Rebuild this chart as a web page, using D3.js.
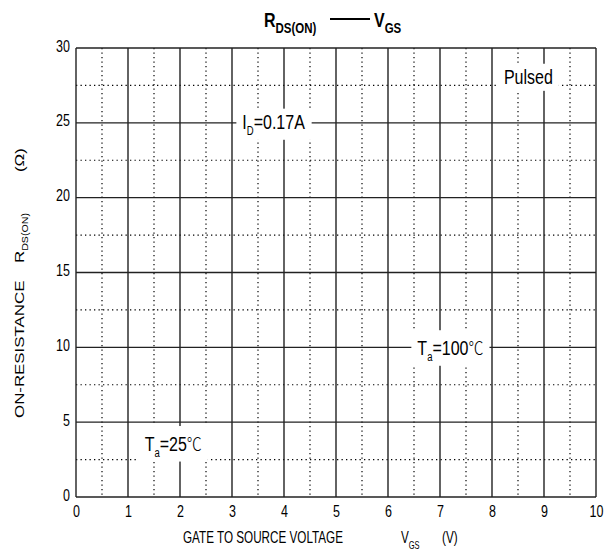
<!DOCTYPE html>
<html>
<head>
<meta charset="utf-8">
<script src="https://cdn.jsdelivr.net/npm/d3@7"></script>
<style>
  html, body { margin: 0; padding: 0; background: #fff; }
  svg { display: block; font-family: "Liberation Sans", Arial, sans-serif; }
</style>
</head>
<body>
<svg id="chart" width="615" height="554"></svg>
<script>
// ---- data ----
const xDomain = [0, 10];
const yDomain = [0, 30];
const xTickValues = [0, 1, 2, 3, 4, 5, 6, 7, 8, 9, 10];
const yTickValues = [0, 5, 10, 15, 20, 25, 30];
const xMinorValues = [0.5, 1.5, 2.5, 3.5, 4.5, 5.5, 6.5, 7.5, 8.5, 9.5];
const yMinorValues = [2.5, 7.5, 12.5, 17.5, 22.5, 27.5];
// annotations: main text, subscript, rest, unit, anchor in data units (V, Ω)
const noteMain = ["Pulsed", "I", "T", "T"];
const noteSub = ["", "D", "a", "a"];
const noteRest = ["", "=0.17A", "=100", "=25"];
const noteUnit = ["", "", "℃", "℃"];
const noteX = [8.7, 3.8, 7.2, 1.87];
const noteY = [27.6, 24.6, 9.5, 3.1];

// ---- chart ----
const svg = d3.select("#chart");
const margin = { left: 76, right: 19, top: 48, bottom: 57 };
const W = 615, H = 554;
const x = d3.scaleLinear().domain(xDomain).range([margin.left, W - margin.right]);
const y = d3.scaleLinear().domain(yDomain).range([H - margin.bottom, margin.top]);
const SY = 1.25; // vertical stretch of lettering

const g = svg.append("g");

// dotted minor grid
g.selectAll("line.vx").data(xMinorValues).join("line")
  .attr("x1", d => x(d)).attr("x2", d => x(d))
  .attr("y1", y(30)).attr("y2", y(0))
  .attr("stroke", "#000").attr("stroke-width", 1.2)
  .attr("stroke-dasharray", "1.3,3.2");
g.selectAll("line.hy").data(yMinorValues).join("line")
  .attr("x1", x(0)).attr("x2", x(10))
  .attr("y1", d => y(d)).attr("y2", d => y(d))
  .attr("stroke", "#000").attr("stroke-width", 1.2)
  .attr("stroke-dasharray", "1.3,3.2");

// solid major grid
g.selectAll("line.mx").data(xTickValues).join("line")
  .attr("x1", d => x(d)).attr("x2", d => x(d))
  .attr("y1", y(30)).attr("y2", y(0))
  .attr("stroke", "#222").attr("stroke-width", 1.4);
g.selectAll("line.my").data(yTickValues).join("line")
  .attr("x1", x(0)).attr("x2", x(10))
  .attr("y1", d => y(d)).attr("y2", d => y(d))
  .attr("stroke", "#222").attr("stroke-width", 1.4);

// axes (labels only)
const xAxis = d3.axisBottom(x).tickValues(xTickValues).tickSize(0).tickPadding(7).tickFormat(d3.format("d"));
const yAxis = d3.axisLeft(y).tickValues(yTickValues).tickSize(0).tickPadding(6).tickFormat(d3.format("d"));
const gx = svg.append("g").attr("transform", `translate(0,${y(0)})`).call(xAxis);
const gy = svg.append("g").attr("transform", `translate(${x(0)},0)`).call(yAxis);
[gx, gy].forEach(a => {
  a.select(".domain").remove();
  a.selectAll("text").attr("font-size", 12.5).attr("fill", "#000")
    .attr("font-family", "'Liberation Sans', Arial, sans-serif")
    .attr("transform", `scale(1,${SY})`);
});
gy.selectAll(".tick text").attr("dy", "0.2em");

// annotations with white background
noteMain.forEach((m, i) => {
  const ng = svg.append("g")
    .attr("transform", `translate(${x(noteX[i])},${y(noteY[i])}) scale(1,${SY})`);
  const t = ng.append("text")
    .attr("x", 0).attr("y", 0)
    .attr("text-anchor", "middle")
    .attr("font-size", 16).attr("fill", "#000");
  t.append("tspan").text(m);
  if (noteSub[i]) {
    t.append("tspan").text(noteSub[i]).attr("font-size", 9.5).attr("dy", 5);
    t.append("tspan").text(noteRest[i]).attr("dy", -5);
  }
  if (noteUnit[i]) {
    t.append("tspan").text(noteUnit[i])
      .attr("font-family", "'Noto Sans CJK SC', sans-serif")
      .attr("font-weight", 300).attr("font-size", 15);
  }
  const bb = t.node().getBBox();
  ng.insert("rect", "text")
    .attr("x", bb.x - 6).attr("y", bb.y - 2)
    .attr("width", bb.width + 12).attr("height", bb.height + 4)
    .attr("fill", "#fff");
});

// title
const tg = svg.append("g").attr("transform", `translate(264,27) scale(1,1.25)`);
const title = tg.append("text")
  .attr("x", 0).attr("y", 0)
  .attr("font-weight", "bold").attr("font-size", 16).attr("fill", "#000");
title.append("tspan").text("R");
title.append("tspan").text("DS(ON)").attr("font-size", 11.5).attr("dy", 4.5);
title.append("tspan").text("V").attr("x", 110).attr("dy", -4.5);
title.append("tspan").text("GS").attr("font-size", 11.5).attr("dy", 4.5);
svg.append("line")
  .attr("x1", 330).attr("x2", 370)
  .attr("y1", 19).attr("y2", 19)
  .attr("stroke", "#000").attr("stroke-width", 2);

// x axis label
const xg = svg.append("g").attr("transform", `translate(0,543) scale(1,1.4)`);
const xl = xg.append("text")
  .attr("y", 0)
  .attr("font-size", 11.7).attr("fill", "#000");
xl.append("tspan").text("GATE TO SOURCE VOLTAGE").attr("x", 183);
xl.append("tspan").text("V").attr("x", 401);
xl.append("tspan").text("GS").attr("font-size", 7.5).attr("dy", 4.5);
xl.append("tspan").text("(V)").attr("x", 442).attr("dy", -4.5);

// y axis label (rotated; text-frame x = -screen y)
const YS = 1.25;
const yg = svg.append("g").attr("transform", `translate(24,0) rotate(-90) scale(${YS},1)`);
const yl = yg.append("text")
  .attr("y", 0)
  .attr("font-size", 13.5).attr("fill", "#000");
yl.append("tspan").text("ON-RESISTANCE").attr("x", -418 / YS);
yl.append("tspan").text("R").attr("x", -263 / YS);
yl.append("tspan").text("DS(ON)").attr("font-size", 8.5).attr("dy", 4);
yl.append("tspan").text("(Ω)").attr("x", -172 / YS).attr("dy", -4);
</script>
</body>
</html>
